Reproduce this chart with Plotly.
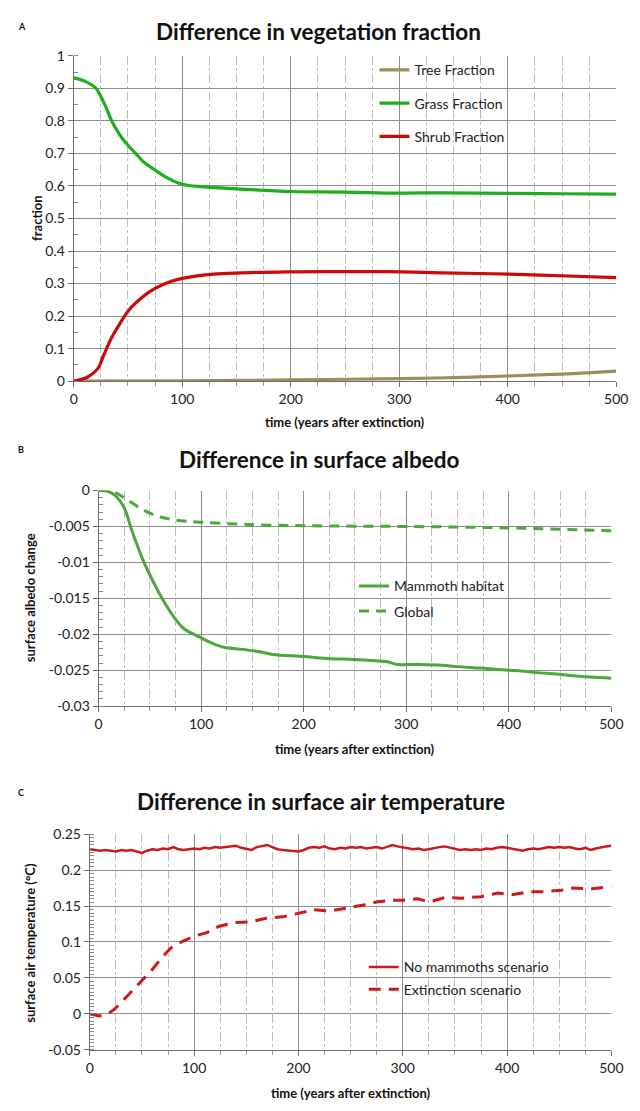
import plotly.graph_objects as go

# ---------------- Panel A data ----------------
grass_x = [0, 10, 20, 25, 30, 35, 40, 45, 50, 57, 65, 75, 85, 100, 120, 150, 200, 250, 300, 340, 400, 450, 500]
grass_y = [0.932, 0.922, 0.902, 0.875, 0.84, 0.80, 0.77, 0.745, 0.725, 0.70, 0.672, 0.649, 0.627, 0.605, 0.597, 0.591, 0.583, 0.581, 0.578, 0.579, 0.577, 0.576, 0.575]

shrub_x = [0, 13, 22, 27.5, 35, 42, 50, 64, 75, 90, 100, 119, 156, 200, 265, 302, 339, 401, 449, 500]
shrub_y = [0.0, 0.013, 0.038, 0.079, 0.134, 0.174, 0.215, 0.26, 0.285, 0.307, 0.316, 0.326, 0.333, 0.336, 0.337, 0.336, 0.333, 0.329, 0.324, 0.318]

tree_x = [0, 100, 200, 300, 350, 400, 450, 500]
tree_y = [0.0, 0.001, 0.004, 0.008, 0.011, 0.016, 0.022, 0.031]

# ---------------- Panel B data ----------------
habitat_x = [0, 9, 17, 25, 32.5, 44, 54, 63.5, 75, 83, 100, 110, 122, 141, 160, 170, 200, 226, 249, 280, 292, 311, 335, 350, 373, 400, 412, 424, 451, 466, 500]
habitat_y = [0.0, -0.0001, -0.0008, -0.0024, -0.0056, -0.0099, -0.0129, -0.0154, -0.0179, -0.0192, -0.0205, -0.0212, -0.0218, -0.0221, -0.0225, -0.0228, -0.0231, -0.0234, -0.0235, -0.0238, -0.0242, -0.0242, -0.0243, -0.0245, -0.0247, -0.0250, -0.0251, -0.0253, -0.0256, -0.0258, -0.0261]

global_x = [0, 13, 25, 40, 56, 75, 100, 141, 200, 296, 400, 500]
global_y = [0.0, -0.0001, -0.0010, -0.0024, -0.0035, -0.0041, -0.0044, -0.0047, -0.0049, -0.0050, -0.0052, -0.0056]

# ---------------- Panel C data ----------------
nomam_x = list(range(0, 501, 5))
nomam_y = [0.229, 0.228, 0.227, 0.228, 0.227, 0.226, 0.228, 0.227, 0.228, 0.226,
           0.224, 0.227, 0.229, 0.228, 0.230, 0.229, 0.232, 0.229, 0.228, 0.229,
           0.230, 0.229, 0.231, 0.230, 0.232, 0.231, 0.232, 0.233, 0.234, 0.231,
           0.229, 0.228, 0.232, 0.233, 0.235, 0.232, 0.229, 0.228, 0.227, 0.226,
           0.226, 0.228, 0.231, 0.232, 0.231, 0.233, 0.230, 0.229, 0.231, 0.230,
           0.232, 0.231, 0.232, 0.230, 0.231, 0.232, 0.230, 0.233, 0.235, 0.233,
           0.232, 0.230, 0.229, 0.230, 0.228, 0.229, 0.231, 0.232, 0.233, 0.231,
           0.229, 0.228, 0.229, 0.228, 0.229, 0.228, 0.230, 0.229, 0.231, 0.232,
           0.231, 0.230, 0.229, 0.227, 0.229, 0.230, 0.229, 0.230, 0.232, 0.231,
           0.232, 0.231, 0.232, 0.230, 0.229, 0.231, 0.228, 0.230, 0.232, 0.233,
           0.234]

ext_x = [0, 9, 17, 24, 32, 43, 51, 59, 70, 78, 89, 100, 112, 124, 139, 154, 169, 185, 200, 215, 230, 246, 261, 276, 288, 299, 314, 326, 341, 356, 375, 391, 406, 421, 436, 452, 463, 482, 500]
ext_y = [0.0, -0.003, -0.0005, 0.007, 0.019, 0.035, 0.048, 0.060, 0.080, 0.092, 0.101, 0.108, 0.113, 0.122, 0.127, 0.128, 0.133, 0.135, 0.140, 0.145, 0.143, 0.147, 0.151, 0.156, 0.158, 0.158, 0.160, 0.156, 0.162, 0.161, 0.163, 0.168, 0.166, 0.170, 0.170, 0.172, 0.175, 0.174, 0.177]

# tick labels
a_ticks = [0, 0.1, 0.2, 0.3, 0.4, 0.5, 0.6, 0.7, 0.8, 0.9, 1.0]
a_ticktext = ["0", "0.1", "0.2", "0.3", "0.4", "0.5", "0.6", "0.7", "0.8", "0.9", "1"]
b_ticks = [-0.03, -0.025, -0.02, -0.015, -0.01, -0.005, 0]
b_ticktext = ["-0.03", "-0.025", "-0.02", "-0.015", "-0.01", "-0.005", "0"]
c_ticks = [-0.05, 0, 0.05, 0.1, 0.15, 0.2, 0.25]
c_ticktext = ["-0.05", "0", "0.05", "0.1", "0.15", "0.2", "0.25"]
x_ticks = [0, 100, 200, 300, 400, 500]
x_ticktext = ["0", "100", "200", "300", "400", "500"]

W, H = 640, 1111
FONT = "Lato"
TXT = "#222222"

def px(v):
    return v / W

def py(v):
    return 1 - v / H

fig = go.Figure()

# Panel A
fig.add_trace(go.Scatter(x=tree_x, y=tree_y, mode="lines", name="Tree Fraction",
                         line=dict(color="#9A8E5E", width=3.2, shape="spline"),
                         xaxis="x", yaxis="y", legend="legend", legendgroup="t"))
fig.add_trace(go.Scatter(x=grass_x, y=grass_y, mode="lines", name="Grass Fraction",
                         line=dict(color="#1FAE1F", width=3.2, shape="spline"),
                         xaxis="x", yaxis="y", legend="legend", legendgroup="g"))
fig.add_trace(go.Scatter(x=shrub_x, y=shrub_y, mode="lines", name="Shrub Fraction",
                         line=dict(color="#CC0A0A", width=3.2, shape="spline"),
                         xaxis="x", yaxis="y", legend="legend", legendgroup="s"))
# Panel B
fig.add_trace(go.Scatter(x=habitat_x, y=habitat_y, mode="lines", name="Mammoth habitat",
                         line=dict(color="#4EA73E", width=3, shape="spline"),
                         xaxis="x2", yaxis="y2", legend="legend2", legendgroup="h"))
fig.add_trace(go.Scatter(x=global_x, y=global_y, mode="lines", name="Global",
                         line=dict(color="#4EA73E", width=3, dash="10px,7px", shape="spline"),
                         xaxis="x2", yaxis="y2", legend="legend2", legendgroup="gl"))
# Panel C
fig.add_trace(go.Scatter(x=nomam_x, y=nomam_y, mode="lines", name="No mammoths scenario",
                         line=dict(color="#CC1A1A", width=2.5),
                         xaxis="x3", yaxis="y3", legend="legend3", legendgroup="n"))
fig.add_trace(go.Scatter(x=ext_x, y=ext_y, mode="lines", name="Extinction scenario",
                         line=dict(color="#CC1A1A", width=3, dash="12px,8px"),
                         xaxis="x3", yaxis="y3", legend="legend3", legendgroup="e"))

def xaxis(domain, anchor):
    return dict(domain=domain, anchor=anchor, range=[0, 500], tickvals=x_ticks, ticktext=x_ticktext,
                showgrid=True, gridcolor="#8E8E8E", gridwidth=1,
                showline=True, linecolor="#6E6E6E", linewidth=1,
                ticks="outside", ticklen=5, tickcolor="#6E6E6E",
                tickfont=dict(family=FONT, size=14, color=TXT), zeroline=False,
                minor=dict(dtick=25, tick0=0, showgrid=True, gridcolor="#BDBDBD", griddash="dashdot",
                           gridwidth=1, ticks="outside", ticklen=4, tickcolor="#9A9A9A"))

def yaxis(domain, anchor, rng, tv, tt, mdt):
    return dict(domain=domain, anchor=anchor, range=rng, tickvals=tv, ticktext=tt,
                showgrid=True, gridcolor="#8E8E8E", gridwidth=1,
                showline=True, linecolor="#6E6E6E", linewidth=1,
                ticks="outside", ticklen=5, tickcolor="#6E6E6E",
                tickfont=dict(family=FONT, size=14, color=TXT), zeroline=False,
                minor=dict(dtick=mdt, tick0=0, showgrid=False, ticks="inside", ticklen=4, tickcolor="#8A8A8A"))

legend_common = dict(bgcolor="rgba(0,0,0,0)", borderwidth=0, xanchor="left", yanchor="top",
                     font=dict(family=FONT, size=14, color=TXT), itemwidth=30)

fig.update_layout(
    width=W, height=H, margin=dict(l=0, r=0, t=0, b=0),
    paper_bgcolor="white", plot_bgcolor="white", showlegend=True,
    xaxis=xaxis([px(71.5), px(628)], "y"),
    yaxis=yaxis([py(378), py(47.5)], "x", [0, 1], a_ticks, a_ticktext, 0.05),
    xaxis2=xaxis([px(97), px(623)], "y2"),
    yaxis2=yaxis([py(708), py(489)], "x2", [-0.03, 0], b_ticks, b_ticktext, 0.001),
    xaxis3=xaxis([px(88), px(623)], "y3"),
    yaxis3=yaxis([py(1057), py(838)], "x3", [-0.05, 0.25], c_ticks, c_ticktext, 0.005),
    legend=dict(legend_common, x=px(380), y=py(46), tracegroupgap=12),
    legend2=dict(legend_common, x=px(359), y=py(570), tracegroupgap=4),
    legend3=dict(legend_common, x=px(369), y=py(957), tracegroupgap=1),
)

annotations = [
    dict(text="<b>A</b>", x=px(12), y=py(18), font=dict(size=9)),
    dict(text="<b>B</b>", x=px(12), y=py(447), font=dict(size=9)),
    dict(text="<b>C</b>", x=px(12), y=py(796), font=dict(size=9)),
    dict(text="<b>Difference in vegetation fraction</b>", x=px(323), y=py(23), font=dict(size=22.5), xanchor="center"),
    dict(text="<b>Difference in surface albedo</b>", x=px(324), y=py(457), font=dict(size=22.5), xanchor="center"),
    dict(text="<b>Difference in surface air temperature</b>", x=px(325), y=py(805), font=dict(size=22.5), xanchor="center"),
    dict(text="<b>time (years after extinction)</b>", x=px(350), y=py(419), font=dict(size=13), xanchor="center"),
    dict(text="<b>time (years after extinction)</b>", x=px(360), y=py(752), font=dict(size=13), xanchor="center"),
    dict(text="<b>time (years after extinction)</b>", x=px(356), y=py(1101), font=dict(size=13), xanchor="center"),
    dict(text="<b>fraction</b>", x=px(34), y=py(213), font=dict(size=13), textangle=-90, xanchor="center"),
    dict(text="<b>surface albedo change</b>", x=px(27), y=py(598), font=dict(size=13), textangle=-90, xanchor="center"),
    dict(text="<b>surface air temperature (°C)</b>", x=px(27), y=py(948), font=dict(size=13), textangle=-90, xanchor="center"),
]
for a in annotations:
    a.setdefault("xanchor", "left")
    a.update(xref="paper", yref="paper", showarrow=False, yanchor="middle")
    a["font"] = dict(family=FONT, color="#111111", **a["font"])
fig.update_layout(annotations=annotations)

fig.write_html("out.html", config={"displayModeBar": False},
               post_script="document.body.style.margin='0';document.body.style.overflow='hidden';")
